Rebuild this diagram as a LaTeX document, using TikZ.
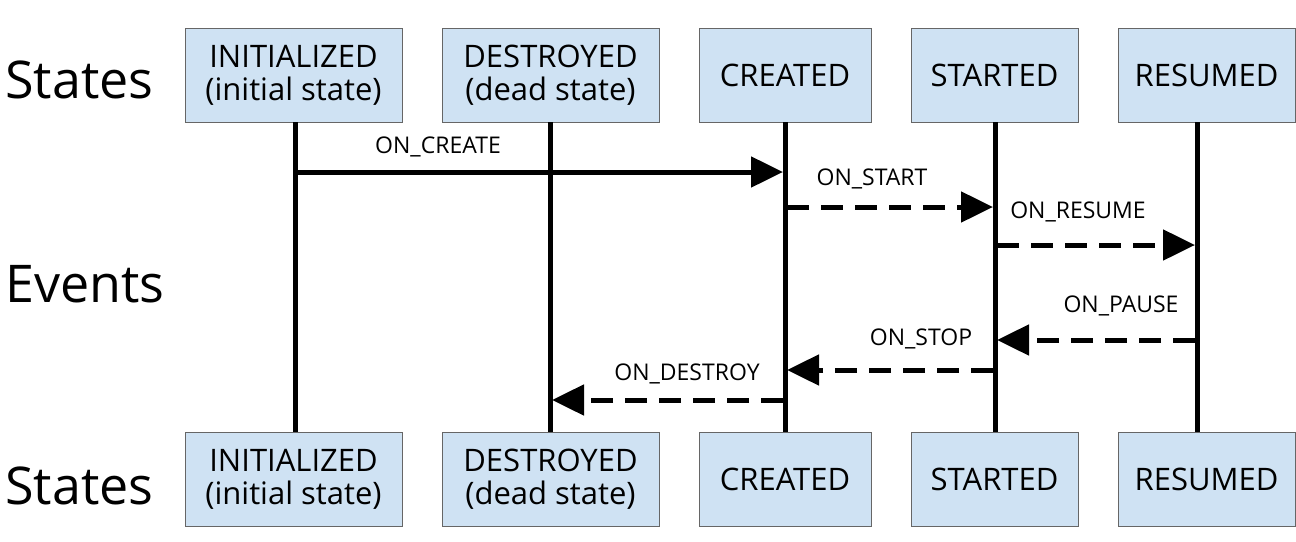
\documentclass[tikz,border=0pt]{standalone}
\usepackage{fontspec}
\setmainfont{Open Sans}
\usetikzlibrary{arrows.meta}
\begin{document}
\begin{tikzpicture}[x=1pt,y=-1pt,
  st/.style={draw=black!60,line width=0.8pt,fill={rgb,255:red,207;green,226;blue,243},minimum height=94pt,align=center,font=\fontsize{31}{33}\selectfont,inner sep=0pt},
  life/.style={line width=5pt},
  ev/.style={line width=5pt,-{Triangle[length=32pt,width=30pt]}},
  dsh/.style={dash pattern=on 22pt off 12pt},
  lab/.style={font=\fontsize{23}{26}\selectfont,inner sep=1pt},
  big/.style={font=\fontsize{52}{58}\selectfont,anchor=west,inner sep=0pt}]
\useasboundingbox (0,0) rectangle (1296,541);
\foreach \n/\x/\w/\t in {I/293.5/217/{INITIALIZED\\(initial state)},D/550.5/217/{DESTROYED\\(dead state)},C/785/172/CREATED,S/994.5/167/STARTED,R/1206.5/177/RESUMED}{
  \node[st,minimum width=\w pt] (\n t) at (\x,75) {\t};
  \node[st,minimum width=\w pt] (\n b) at (\x,479) {\t};
}
\foreach \n/\x in {I/295,D/550,C/785,S/995,R/1197}{
  \coordinate (\n1) at (\x,122); \coordinate (\n2) at (\x,432);
  \draw[life] (\n1) -- (\n2);
}
\node[big] (s1) at (5,80) {States};
\node[big] (e1) at (5,284) {Events};
\node[big] (s2) at (5,486) {States};
\coordinate (a1) at (297,172); \coordinate (a2) at (783,172);
\draw[ev] (a1) -- (a2);
\node[lab] (l1) at (438,147) {ON\_CREATE};
\coordinate (b1) at (787,207); \coordinate (b2) at (993,207);
\draw[ev,dsh] (b1) -- (b2);
\node[lab] (l2) at (872,179) {ON\_START};
\coordinate (c1) at (997,245); \coordinate (c2) at (1195,245);
\draw[ev,dsh] (c1) -- (c2);
\node[lab] (l3) at (1078,212) {ON\_RESUME};
\coordinate (d1) at (1195,340); \coordinate (d2) at (997,340);
\draw[ev,dsh] (d1) -- (d2);
\node[lab] (l4) at (1121,306) {ON\_PAUSE};
\coordinate (e1c) at (993,370); \coordinate (e2c) at (787,370);
\draw[ev,dsh] (e1c) -- (e2c);
\node[lab] (l5) at (921,339) {ON\_STOP};
\coordinate (f1) at (783,400); \coordinate (f2) at (552,400);
\draw[ev,dsh] (f1) -- (f2);
\node[lab] (l6) at (687,374) {ON\_DESTROY};
\end{tikzpicture}
\end{document}
